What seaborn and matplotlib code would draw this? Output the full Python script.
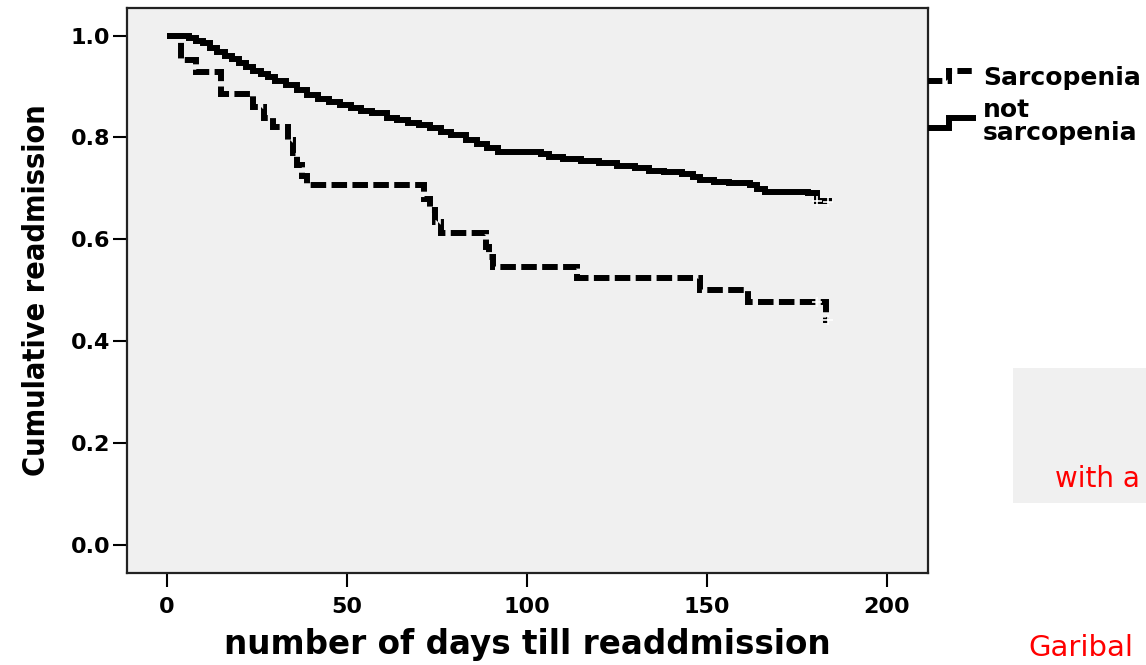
import matplotlib
matplotlib.use("Agg")
import matplotlib.pyplot as plt
import seaborn as sns
import pandas as pd
from matplotlib import font_manager as fm
from matplotlib.lines import Line2D
from matplotlib.legend_handler import HandlerLine2D
from matplotlib.patches import Rectangle

# ---------------- data ----------------
sarc_days = [0, 4, 8, 15, 24, 27, 29.5, 33.5, 35, 36, 37.5, 39, 71.5, 73, 74.5, 76,
             88.5, 89.5, 90.5, 114, 148, 161.5, 183, 183.5]
sarc_surv = [1.0, 0.951, 0.929, 0.886, 0.859, 0.839, 0.820, 0.794, 0.769, 0.745, 0.725, 0.706,
             0.680, 0.657, 0.633, 0.612, 0.584, 0.565, 0.545, 0.524, 0.500, 0.476, 0.441, 0.441]

notsarc_days = [0, 6, 8, 10, 12, 14, 16, 18, 20, 22, 24, 26, 28, 30, 33, 36, 39, 42, 45, 48,
                51, 54, 57, 61, 64, 67, 70, 73, 76, 79, 83, 86, 89, 92, 104, 106, 110, 115,
                120, 125, 130, 134, 138, 143, 146, 148, 152, 156, 162, 164, 166, 178, 180.5, 184]
notsarc_surv = [1.0, 0.995, 0.990, 0.985, 0.975, 0.968, 0.960, 0.953, 0.946, 0.938, 0.931,
                0.924, 0.918, 0.911, 0.902, 0.894, 0.884, 0.876, 0.870, 0.864, 0.857, 0.852,
                0.847, 0.839, 0.834, 0.829, 0.824, 0.818, 0.811, 0.804, 0.794, 0.788, 0.780,
                0.771, 0.768, 0.761, 0.757, 0.753, 0.749, 0.744, 0.739, 0.735, 0.732, 0.729,
                0.722, 0.716, 0.713, 0.710, 0.706, 0.698, 0.692, 0.690, 0.676, 0.673]

sarc_cens_days = [180.5, 183.5]
sarc_cens_surv = [0.476, 0.441]
notsarc_cens_days = [180.5, 183.5]
notsarc_cens_surv = [0.676, 0.673]

x_ticks = [0, 50, 100, 150, 200]
y_ticks = [0.0, 0.2, 0.4, 0.6, 0.8, 1.0]
legend_labels = ["Sarcopenia", "not\nsarcopenia"]
x_label = "number of days till readdmission"
y_label = "Cumulative readmission"

# ---------------- style ----------------
sns.set_style("ticks")
plt.rcParams["font.family"] = ["DejaVu Sans"]
plt.rcParams["font.weight"] = "bold"
plt.rcParams["text.color"] = "black"
plt.rcParams["axes.labelcolor"] = "black"
plt.rcParams["xtick.color"] = "black"
plt.rcParams["ytick.color"] = "black"

names = {f.name for f in fm.fontManager.ttflist}
ylab_kw = dict(family="DejaVu Sans", fontsize=20.5)
if "Liberation Sans Narrow" in names:
    ylab_kw = dict(family="Liberation Sans Narrow", fontsize=27)
elif any(f.name == "DejaVu Sans" and f.stretch == "condensed" for f in fm.fontManager.ttflist):
    ylab_kw = dict(family="DejaVu Sans", fontstretch="condensed", fontsize=22)

fig = plt.figure(figsize=(11.46, 6.65), dpi=100)
fig.patch.set_facecolor("white")
ax = fig.add_axes([127 / 1146, 1 - 573 / 665, (928 - 127) / 1146, (573 - 8) / 665])
ax.set_facecolor("#f0f0f0")

df_s = pd.DataFrame({"day": sarc_days, "surv": sarc_surv})
df_n = pd.DataFrame({"day": notsarc_days, "surv": notsarc_surv})

lw = 4.3
sns.lineplot(data=df_n, x="day", y="surv", ax=ax, estimator=None, sort=False,
             color="black", lw=lw, drawstyle="steps-post", solid_joinstyle="miter",
             solid_capstyle="butt")
sns.lineplot(data=df_s, x="day", y="surv", ax=ax, estimator=None, sort=False,
             color="black", lw=lw, drawstyle="steps-post", dashes=(2.6, 0.9),
             dash_capstyle="butt", dash_joinstyle="miter")
ax.plot(notsarc_cens_days, notsarc_cens_surv, ls="none", marker="+", ms=7, mew=1.2,
        color="white")
ax.plot(sarc_cens_days, sarc_cens_surv, ls="none", marker="+", ms=7, mew=1.2,
        color="white")

ax.set_xlim(-11.1, 211.4)
ax.set_ylim(-0.055, 1.054)
ax.set_xticks(x_ticks)
ax.set_xticklabels([str(v) for v in x_ticks])
ax.set_yticks(y_ticks)
ax.set_yticklabels([f"{v:.1f}" for v in y_ticks])
ax.tick_params(axis="both", direction="out", length=10, width=1.5, colors="black",
               labelsize=16)
ax.tick_params(axis="x", pad=7)
ax.tick_params(axis="y", pad=2)
for lab in ax.get_xticklabels() + ax.get_yticklabels():
    lab.set_fontweight("bold")
for sp in ax.spines.values():
    sp.set_visible(True)
    sp.set_linewidth(1.6)
    sp.set_color("#222222")

ax.set_xlabel(x_label, fontsize=23.5, fontweight="bold", labelpad=8, color="black")
ax.set_ylabel(y_label, fontweight="bold", labelpad=14, color="black", **ylab_kw)


class StepHandler(HandlerLine2D):
    def create_artists(self, legend, orig_handle, xdescent, ydescent, width, height,
                       fontsize, trans):
        x0 = -xdescent
        y0 = -ydescent + height / 2.0
        xs = [x0, x0 + width * 0.45, x0 + width * 0.45, x0 + width]
        ys = [y0 - 3.5, y0 - 3.5, y0 + 3.5, y0 + 3.5]
        ln = Line2D(xs, ys)
        self.update_prop(ln, orig_handle, legend)
        ln.set_transform(trans)
        return [ln]


h_s = Line2D([], [], color="black", lw=lw, dashes=(2.4, 0.9), dash_capstyle="butt",
             dash_joinstyle="miter")
h_n = Line2D([], [], color="black", lw=lw, solid_capstyle="butt", solid_joinstyle="miter")
leg = ax.legend([h_s, h_n], legend_labels, loc="upper left", bbox_to_anchor=(1.0, 0.898),
                frameon=False, borderaxespad=0, borderpad=0, handlelength=1.9,
                handletextpad=0.3, labelspacing=0.35, fontsize=18,
                handler_map={Line2D: StepHandler()})
for t in leg.get_texts():
    t.set_fontweight("bold")
    t.set_color("black")
    t.set_linespacing(0.95)

# fragments of the surrounding slide, at the picture edge
fig.patches.append(Rectangle((1013 / 1146, 1 - 503 / 665), 0.2, (503 - 368) / 665,
                             transform=fig.transFigure, facecolor="#f0f0f0",
                             edgecolor="none", zorder=0))
fig.text(1055 / 1146, 1 - 487 / 665, "with a", color="red", fontsize=20,
         fontweight="normal", va="baseline", ha="left")
fig.text(1028 / 1146, 1 - 656 / 665, "Garibal", color="red", fontsize=21,
         fontweight="normal", va="baseline", ha="left")

fig.savefig("out.png", dpi=100, facecolor="white")
